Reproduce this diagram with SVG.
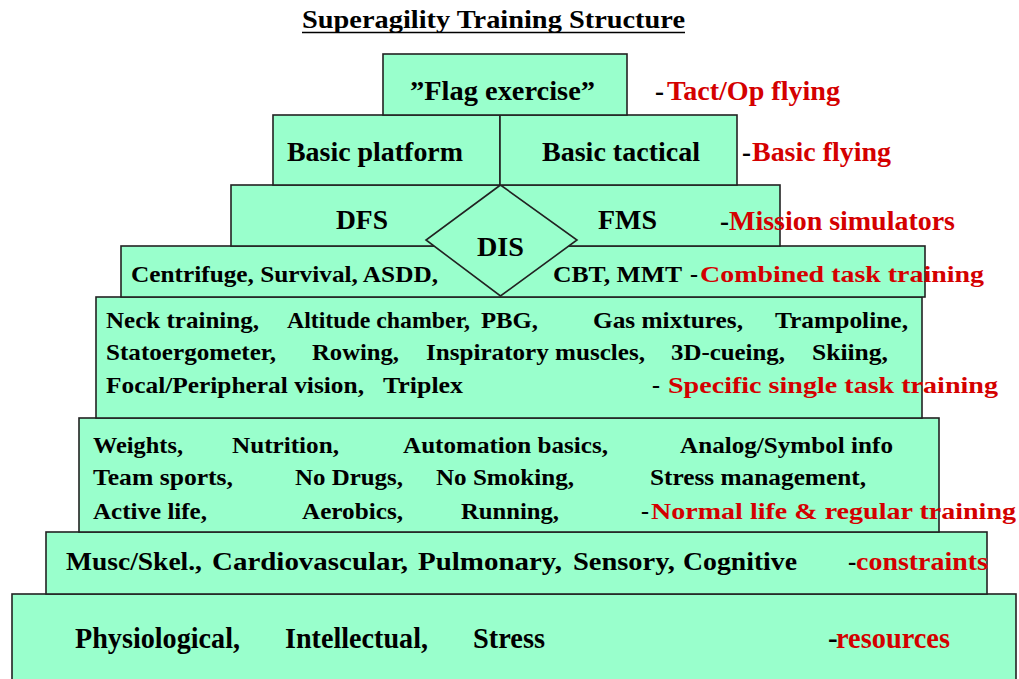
<svg xmlns="http://www.w3.org/2000/svg" width="1019" height="679" viewBox="0 0 1019 679">
<style>
text{font-family:"Liberation Serif","Times New Roman",serif;font-weight:bold}
.box{fill:#99ffcc;stroke:#222;stroke-width:1.6}
.h{font-size:27px}
.m{font-size:24px}
.r7{font-size:25px}
.r8{font-size:29px}
.red{fill:#d40000}
</style>
<rect width="1019" height="679" fill="#fff"/>
<g id="title">
<text font-family="Liberation Serif" x="302" y="28" font-size="26" textLength="383" lengthAdjust="spacingAndGlyphs">Superagility Training Structure</text>
<line x1="302" y1="32.5" x2="685" y2="32.5" stroke="#000" stroke-width="1.6"/>
</g>
<g id="connectors"></g>
<g id="resources">
<rect class="box" x="12" y="594" width="1004" height="100"/>
<text font-family="Liberation Serif" class="r8" x="75" y="648" textLength="165" lengthAdjust="spacingAndGlyphs">Physiological,</text>
<text font-family="Liberation Serif" class="r8" x="285" y="648" textLength="143" lengthAdjust="spacingAndGlyphs">Intellectual,</text>
<text font-family="Liberation Serif" class="r8" x="473" y="648" textLength="72" lengthAdjust="spacingAndGlyphs">Stress</text>
<text font-family="Liberation Serif" class="r8" x="828" y="648">-</text>
<text font-family="Liberation Serif" class="r8 red" x="836" y="648" textLength="114" lengthAdjust="spacingAndGlyphs">resources</text>
</g>
<g id="constraints">
<rect class="box" x="46" y="532" width="941" height="62"/>
<text font-family="Liberation Serif" class="r7" x="66" y="570" textLength="136" lengthAdjust="spacingAndGlyphs">Musc/Skel.,</text>
<text font-family="Liberation Serif" class="r7" x="212" y="570" textLength="196" lengthAdjust="spacingAndGlyphs">Cardiovascular,</text>
<text font-family="Liberation Serif" class="r7" x="418" y="570" textLength="144" lengthAdjust="spacingAndGlyphs">Pulmonary,</text>
<text font-family="Liberation Serif" class="r7" x="573" y="570" textLength="102" lengthAdjust="spacingAndGlyphs">Sensory,</text>
<text font-family="Liberation Serif" class="r7" x="683" y="570" textLength="114" lengthAdjust="spacingAndGlyphs">Cognitive</text>
<text font-family="Liberation Serif" class="r7" x="848" y="570">-</text>
<text font-family="Liberation Serif" class="r7 red" x="856" y="570" textLength="132" lengthAdjust="spacingAndGlyphs">constraints</text>
</g>
<g id="normal-life">
<rect class="box" x="79" y="418" width="860" height="114"/>
<text font-family="Liberation Serif" class="m" x="93" y="453" textLength="90" lengthAdjust="spacingAndGlyphs">Weights,</text>
<text font-family="Liberation Serif" class="m" x="232" y="453" textLength="107" lengthAdjust="spacingAndGlyphs">Nutrition,</text>
<text font-family="Liberation Serif" class="m" x="403" y="453" textLength="205" lengthAdjust="spacingAndGlyphs">Automation basics,</text>
<text font-family="Liberation Serif" class="m" x="680" y="453" textLength="213" lengthAdjust="spacingAndGlyphs">Analog/Symbol info</text>
<text font-family="Liberation Serif" class="m" x="93" y="485" textLength="140" lengthAdjust="spacingAndGlyphs">Team sports,</text>
<text font-family="Liberation Serif" class="m" x="295" y="485" textLength="108" lengthAdjust="spacingAndGlyphs">No Drugs,</text>
<text font-family="Liberation Serif" class="m" x="436" y="485" textLength="138" lengthAdjust="spacingAndGlyphs">No Smoking,</text>
<text font-family="Liberation Serif" class="m" x="650" y="485" textLength="216" lengthAdjust="spacingAndGlyphs">Stress management,</text>
<text font-family="Liberation Serif" class="m" x="93" y="519" textLength="114" lengthAdjust="spacingAndGlyphs">Active life,</text>
<text font-family="Liberation Serif" class="m" x="302" y="519" textLength="101" lengthAdjust="spacingAndGlyphs">Aerobics,</text>
<text font-family="Liberation Serif" class="m" x="461" y="519" textLength="98" lengthAdjust="spacingAndGlyphs">Running,</text>
<text font-family="Liberation Serif" class="m" x="641" y="519" font-weight="normal">-</text>
<text font-family="Liberation Serif" class="m red" x="651" y="519" textLength="365" lengthAdjust="spacingAndGlyphs">Normal life &#38; regular training</text>
</g>
<g id="specific-single-task">
<rect class="box" x="96" y="297" width="826" height="121"/>
<text font-family="Liberation Serif" class="m" x="106" y="328" textLength="153" lengthAdjust="spacingAndGlyphs">Neck training,</text>
<text font-family="Liberation Serif" class="m" x="287" y="328" textLength="183" lengthAdjust="spacingAndGlyphs">Altitude chamber,</text>
<text font-family="Liberation Serif" class="m" x="481" y="328" textLength="57" lengthAdjust="spacingAndGlyphs">PBG,</text>
<text font-family="Liberation Serif" class="m" x="593" y="328" textLength="150" lengthAdjust="spacingAndGlyphs">Gas mixtures,</text>
<text font-family="Liberation Serif" class="m" x="775" y="328" textLength="133" lengthAdjust="spacingAndGlyphs">Trampoline,</text>
<text font-family="Liberation Serif" class="m" x="106" y="360" textLength="170" lengthAdjust="spacingAndGlyphs">Statoergometer,</text>
<text font-family="Liberation Serif" class="m" x="312" y="360" textLength="87" lengthAdjust="spacingAndGlyphs">Rowing,</text>
<text font-family="Liberation Serif" class="m" x="426" y="360" textLength="219" lengthAdjust="spacingAndGlyphs">Inspiratory muscles,</text>
<text font-family="Liberation Serif" class="m" x="671" y="360" textLength="114" lengthAdjust="spacingAndGlyphs">3D-cueing,</text>
<text font-family="Liberation Serif" class="m" x="812" y="360" textLength="76" lengthAdjust="spacingAndGlyphs">Skiing,</text>
<text font-family="Liberation Serif" class="m" x="106" y="393" textLength="258" lengthAdjust="spacingAndGlyphs">Focal/Peripheral vision,</text>
<text font-family="Liberation Serif" class="m" x="383" y="393" textLength="80" lengthAdjust="spacingAndGlyphs">Triplex</text>
<text font-family="Liberation Serif" class="m" x="652" y="393" font-weight="normal">-</text>
<text font-family="Liberation Serif" class="m red" x="668" y="393" textLength="330" lengthAdjust="spacingAndGlyphs">Specific single task training</text>
</g>
<g id="combined-task">
<rect class="box" x="121" y="246" width="804" height="51"/>
<text font-family="Liberation Serif" class="m" x="131" y="282" textLength="307" lengthAdjust="spacingAndGlyphs">Centrifuge, Survival, ASDD,</text>
<text font-family="Liberation Serif" class="m" x="553" y="282" textLength="129" lengthAdjust="spacingAndGlyphs">CBT, MMT</text>
<text font-family="Liberation Serif" class="m" x="690" y="282" font-weight="normal">-</text>
<text font-family="Liberation Serif" class="m red" x="700" y="282" textLength="284" lengthAdjust="spacingAndGlyphs">Combined task training</text>
</g>
<g id="mission-simulators">
<rect class="box" x="231" y="185" width="549" height="61"/>
<text font-family="Liberation Serif" class="h" x="336" y="229" textLength="52" lengthAdjust="spacingAndGlyphs">DFS</text>
<text font-family="Liberation Serif" class="h" x="598" y="229" textLength="59" lengthAdjust="spacingAndGlyphs">FMS</text>
<text font-family="Liberation Serif" class="h" x="720" y="230">-</text>
<text font-family="Liberation Serif" class="h red" x="729" y="230" textLength="226" lengthAdjust="spacingAndGlyphs">Mission simulators</text>
</g>
<g id="dis">
<polygon class="box" points="500.5,185 426,240 500.5,296 577,240"/>
<text font-family="Liberation Serif" class="h" x="477" y="256" textLength="47" lengthAdjust="spacingAndGlyphs">DIS</text>
</g>
<g id="basic-platform">
<rect class="box" x="273" y="115" width="227" height="70"/>
<text font-family="Liberation Serif" class="h" x="287" y="161" textLength="176" lengthAdjust="spacingAndGlyphs">Basic platform</text>
</g>
<g id="basic-tactical">
<rect class="box" x="500" y="115" width="237" height="70"/>
<text font-family="Liberation Serif" class="h" x="542" y="161" textLength="158" lengthAdjust="spacingAndGlyphs">Basic tactical</text>
<text font-family="Liberation Serif" class="h" x="742" y="161">-</text>
<text font-family="Liberation Serif" class="h red" x="752" y="161" textLength="139" lengthAdjust="spacingAndGlyphs">Basic flying</text>
</g>
<g id="flag-exercise">
<rect class="box" x="383" y="54" width="244" height="61"/>
<text font-family="Liberation Serif" class="h" x="410" y="100" textLength="185" lengthAdjust="spacingAndGlyphs">”Flag exercise”</text>
<text font-family="Liberation Serif" class="h" x="655" y="100">-</text>
<text font-family="Liberation Serif" class="h red" x="667" y="100" textLength="173" lengthAdjust="spacingAndGlyphs">Tact/Op flying</text>
</g>
</svg>
